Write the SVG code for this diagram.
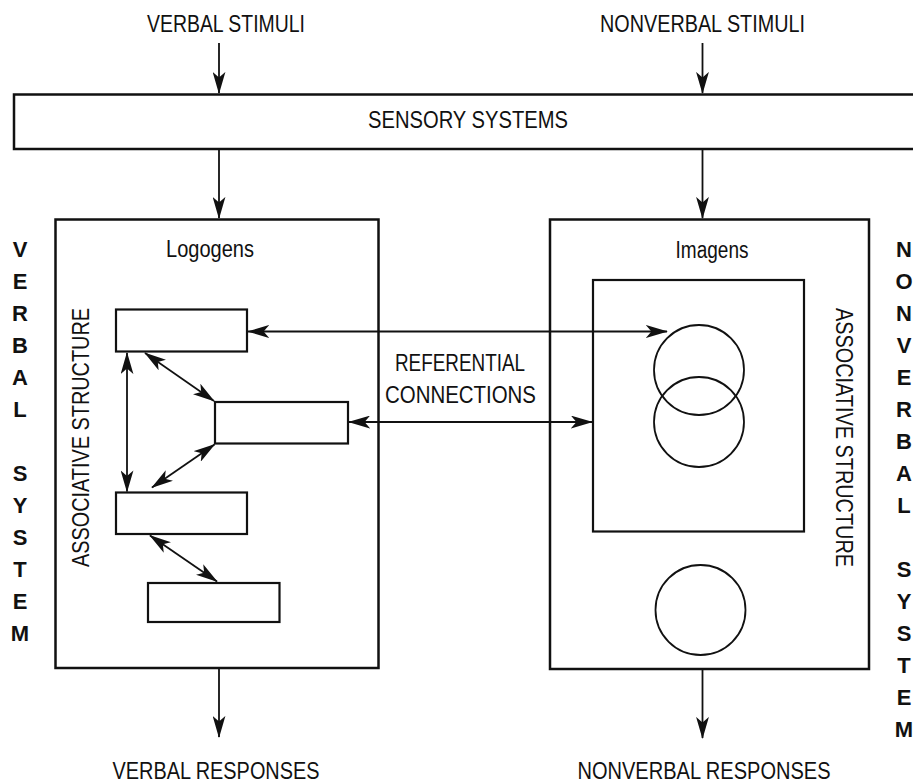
<svg xmlns="http://www.w3.org/2000/svg" width="913" height="783" viewBox="0 0 913 783">
  <style>
    .box { fill: #fff; stroke: #111; stroke-width: 2.5; }
    .unit { fill: #fff; stroke: #111; stroke-width: 2.2; }
    .circ { fill: none; stroke: #111; stroke-width: 1.8; }
    .lbl { font-family: "Liberation Sans", Arial, sans-serif; font-size: 23px; fill: #111; text-anchor: middle; }
    .side { font-family: "Liberation Sans", Arial, sans-serif; font-size: 22px; font-weight: bold; fill: #111; text-anchor: middle; }
    .conn line { stroke: #111; stroke-width: 1.8; fill: none; }
    .one { marker-end: url(#head); }
    .two { marker-start: url(#head); marker-end: url(#head); }
  </style>
  <defs>
    <marker id="head" viewBox="0 0 24 14" refX="23" refY="7" markerWidth="22" markerHeight="13" markerUnits="userSpaceOnUse" orient="auto-start-reverse">
      <path d="M0,0 L24,7 L0,14 L6,7 Z" fill="#111"/>
    </marker>
  </defs>
  <rect width="913" height="783" fill="#fff"/>

  <!-- inputs -->
  <g id="verbal-stimuli">
    <text class="lbl" x="226" y="32" textLength="158" lengthAdjust="spacingAndGlyphs">VERBAL STIMULI</text>
  </g>
  <g id="nonverbal-stimuli">
    <text class="lbl" x="702.5" y="32" textLength="205" lengthAdjust="spacingAndGlyphs">NONVERBAL STIMULI</text>
  </g>

  <!-- sensory systems band -->
  <g id="sensory-systems">
    <rect class="box" x="14" y="94.5" width="910" height="54.5"/>
    <text class="lbl" x="468" y="128" textLength="200" lengthAdjust="spacingAndGlyphs">SENSORY SYSTEMS</text>
  </g>

  <!-- verbal system -->
  <g id="verbal-system">
    <rect class="box" x="55.5" y="219.5" width="323" height="448.5"/>
    <text class="lbl" x="210" y="257" textLength="88" lengthAdjust="spacingAndGlyphs">Logogens</text>
    <text class="lbl" transform="translate(89,437.5) rotate(-90)" textLength="259" lengthAdjust="spacingAndGlyphs">ASSOCIATIVE STRUCTURE</text>
  </g>
  <g id="logogen-1"><rect class="unit" x="116" y="309.5" width="131" height="42"/></g>
  <g id="logogen-2"><rect class="unit" x="215" y="402" width="133" height="41.5"/></g>
  <g id="logogen-3"><rect class="unit" x="116" y="492.5" width="131" height="41.5"/></g>
  <g id="logogen-4"><rect class="unit" x="148" y="583" width="131.5" height="39"/></g>

  <!-- nonverbal system -->
  <g id="nonverbal-system">
    <rect class="box" x="550" y="219.5" width="319" height="449.5"/>
    <text class="lbl" x="712" y="258" textLength="73" lengthAdjust="spacingAndGlyphs">Imagens</text>
    <text class="lbl" transform="translate(836,437.5) rotate(90)" textLength="259" lengthAdjust="spacingAndGlyphs">ASSOCIATIVE STRUCTURE</text>
  </g>
  <g id="imagen-cluster">
    <rect class="unit" x="593" y="280" width="211" height="251.5"/>
    <circle class="circ" cx="699" cy="370" r="45"/>
    <circle class="circ" cx="699" cy="422" r="45"/>
  </g>
  <g id="imagen-single">
    <circle class="circ" cx="700.5" cy="610" r="45"/>
  </g>

  <!-- referential label -->
  <g id="referential-connections">
    <text class="lbl" x="460" y="371" textLength="130" lengthAdjust="spacingAndGlyphs">REFERENTIAL</text>
    <text class="lbl" x="460.5" y="403" textLength="151" lengthAdjust="spacingAndGlyphs">CONNECTIONS</text>
  </g>

  <!-- outputs -->
  <g id="verbal-responses">
    <text class="lbl" x="216" y="779" textLength="207" lengthAdjust="spacingAndGlyphs">VERBAL RESPONSES</text>
  </g>
  <g id="nonverbal-responses">
    <text class="lbl" x="704" y="779" textLength="253" lengthAdjust="spacingAndGlyphs">NONVERBAL RESPONSES</text>
  </g>

  <!-- vertical system captions -->
  <g id="verbal-system-caption">
    <text class="side" x="20" y="257">V</text>
    <text class="side" x="20" y="289">E</text>
    <text class="side" x="20" y="321">R</text>
    <text class="side" x="20" y="353">B</text>
    <text class="side" x="20" y="385">A</text>
    <text class="side" x="20" y="417">L</text>
    <text class="side" x="20" y="481">S</text>
    <text class="side" x="20" y="513">Y</text>
    <text class="side" x="20" y="545">S</text>
    <text class="side" x="20" y="577">T</text>
    <text class="side" x="20" y="609">E</text>
    <text class="side" x="20" y="641">M</text>
  </g>
  <g id="nonverbal-system-caption">
    <text class="side" x="904" y="257">N</text>
    <text class="side" x="904" y="289">O</text>
    <text class="side" x="904" y="321">N</text>
    <text class="side" x="904" y="353">V</text>
    <text class="side" x="904" y="385">E</text>
    <text class="side" x="904" y="417">R</text>
    <text class="side" x="904" y="449">B</text>
    <text class="side" x="904" y="481">A</text>
    <text class="side" x="904" y="513">L</text>
    <text class="side" x="904" y="577">S</text>
    <text class="side" x="904" y="609">Y</text>
    <text class="side" x="904" y="641">S</text>
    <text class="side" x="904" y="673">T</text>
    <text class="side" x="904" y="705">E</text>
    <text class="side" x="904" y="737">M</text>
  </g>

  <!-- connectors -->
  <g id="connectors" class="conn">
    <line class="one" x1="219" y1="43" x2="219" y2="93"/>
    <line class="one" x1="702.5" y1="43" x2="702.5" y2="93"/>
    <line class="one" x1="219" y1="150" x2="219" y2="218"/>
    <line class="one" x1="702.5" y1="150" x2="702.5" y2="218"/>
    <line class="one" x1="219" y1="669" x2="219" y2="737"/>
    <line class="one" x1="702.5" y1="670" x2="702.5" y2="738"/>
    <line class="two" x1="127" y1="353" x2="127" y2="491.5"/>
    <line class="two" x1="145" y1="353" x2="214" y2="401"/>
    <line class="two" x1="214.5" y1="444.5" x2="152" y2="487.5"/>
    <line class="two" x1="150" y1="535.5" x2="217" y2="581.5"/>
    <line class="two" x1="248" y1="331.5" x2="667" y2="331.5"/>
    <line class="two" x1="349" y1="422" x2="592" y2="422"/>
  </g>
</svg>
